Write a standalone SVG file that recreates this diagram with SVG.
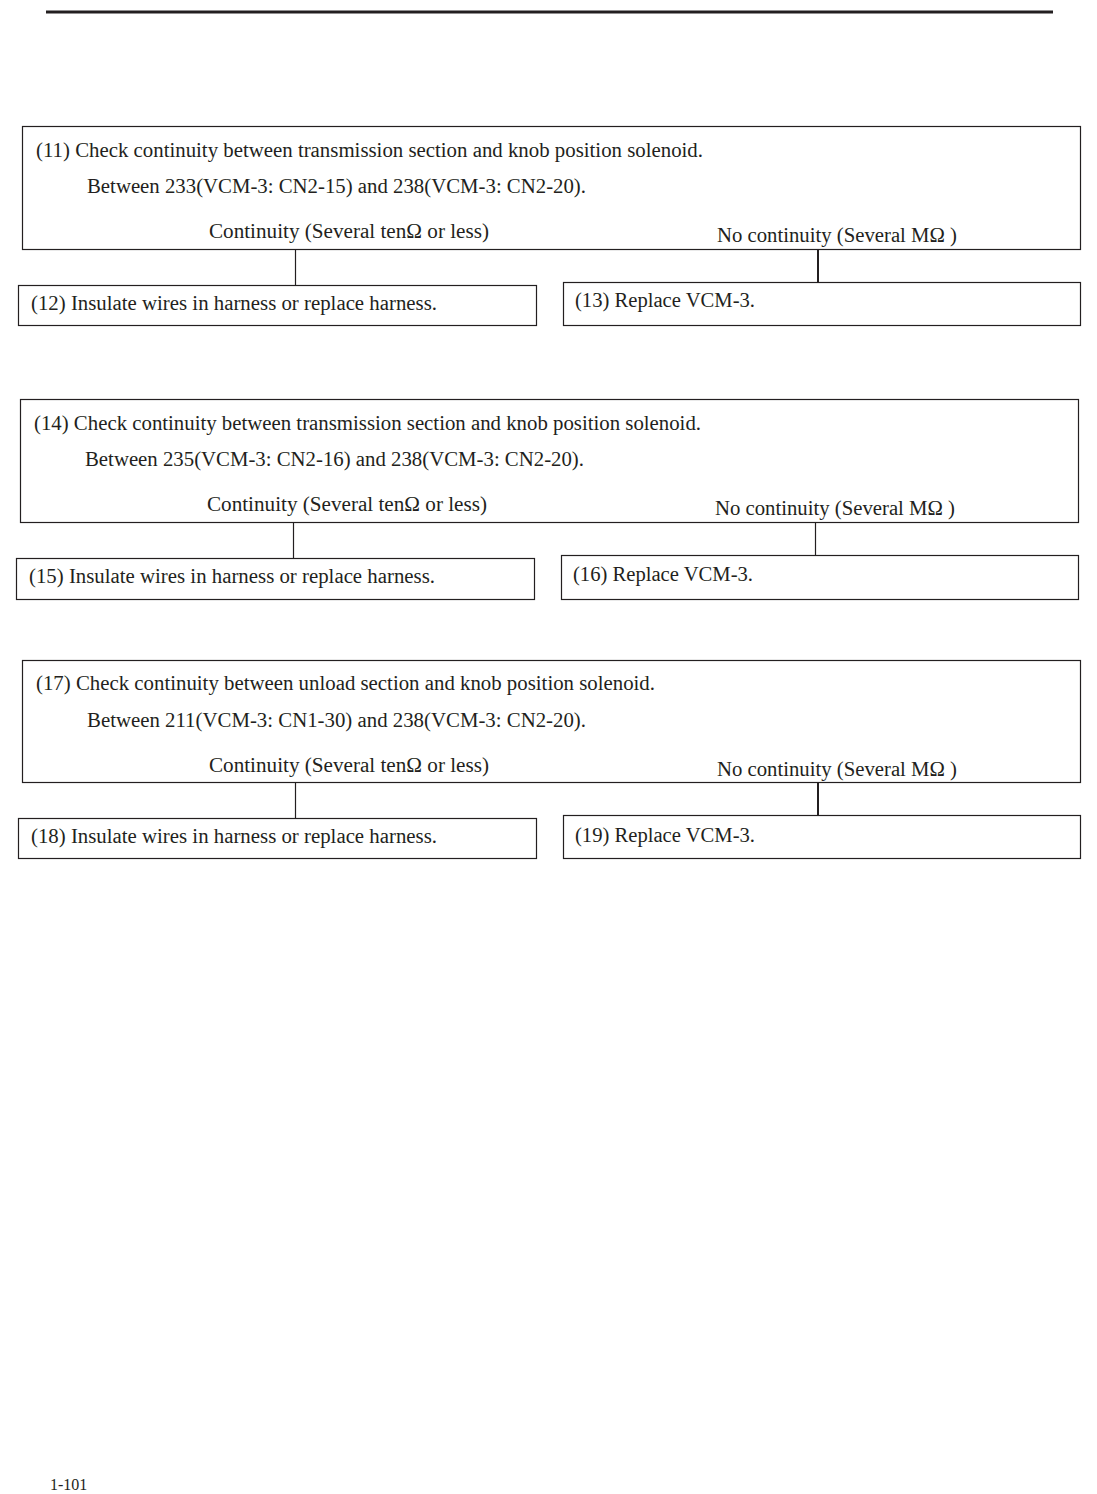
<svg xmlns="http://www.w3.org/2000/svg" width="1097" height="1494" viewBox="0 0 1097 1494">
<style>
.box{fill:#fff;stroke:#231f20;stroke-width:1.2}
.t{font-family:"Liberation Serif","Times New Roman",serif;font-size:20px;fill:#231f20}
.c{stroke:#231f20;stroke-width:1.2;fill:none}
.ck{stroke:#231f20;stroke-width:2;fill:none}
</style>
<rect width="1097" height="1494" fill="#fff"/>
<line x1="46" y1="12" x2="1053" y2="12" stroke="#231f20" stroke-width="3"/>

<g id="connectors">
<line class="c" x1="295.5" y1="250" x2="295.5" y2="285"/>
<line class="ck" x1="818" y1="250" x2="818" y2="283"/>
<line class="c" x1="293.5" y1="523" x2="293.5" y2="558"/>
<line class="c" x1="815.5" y1="523" x2="815.5" y2="555"/>
<line class="c" x1="295.5" y1="783" x2="295.5" y2="818"/>
<line class="ck" x1="818" y1="783" x2="818" y2="816"/>
</g>

<g id="n11">
<rect class="box" x="22.5" y="126.5" width="1058" height="123"/>
<text class="t" x="36" y="157" textLength="667" lengthAdjust="spacingAndGlyphs">(11) Check continuity between transmission section and knob position solenoid.</text>
<text class="t" x="87" y="193" textLength="499" lengthAdjust="spacingAndGlyphs">Between 233(VCM-3: CN2-15) and 238(VCM-3: CN2-20).</text>
<text class="t" x="209" y="238" textLength="280" lengthAdjust="spacingAndGlyphs">Continuity (Several tenΩ  or less)</text>
<text class="t" x="717" y="242" textLength="240" lengthAdjust="spacingAndGlyphs">No continuity (Several MΩ )</text>
</g>
<g id="n12">
<rect class="box" x="18.5" y="285.5" width="518" height="40"/>
<text class="t" x="31" y="310" textLength="406" lengthAdjust="spacingAndGlyphs">(12) Insulate wires in harness or replace harness.</text>
</g>
<g id="n13">
<rect class="box" x="563.5" y="282.5" width="517" height="43"/>
<text class="t" x="575" y="307" textLength="180" lengthAdjust="spacingAndGlyphs">(13) Replace VCM-3.</text>
</g>

<g id="n14">
<rect class="box" x="20.5" y="399.5" width="1058" height="123"/>
<text class="t" x="34" y="430" textLength="667" lengthAdjust="spacingAndGlyphs">(14) Check continuity between transmission section and knob position solenoid.</text>
<text class="t" x="85" y="466" textLength="499" lengthAdjust="spacingAndGlyphs">Between 235(VCM-3: CN2-16) and 238(VCM-3: CN2-20).</text>
<text class="t" x="207" y="511" textLength="280" lengthAdjust="spacingAndGlyphs">Continuity (Several tenΩ  or less)</text>
<text class="t" x="715" y="515" textLength="240" lengthAdjust="spacingAndGlyphs">No continuity (Several MΩ )</text>
</g>
<g id="n15">
<rect class="box" x="16.5" y="558.5" width="518" height="41"/>
<text class="t" x="29" y="583" textLength="406" lengthAdjust="spacingAndGlyphs">(15) Insulate wires in harness or replace harness.</text>
</g>
<g id="n16">
<rect class="box" x="561.5" y="555.5" width="517" height="44"/>
<text class="t" x="573" y="581" textLength="180" lengthAdjust="spacingAndGlyphs">(16) Replace VCM-3.</text>
</g>

<g id="n17">
<rect class="box" x="22.5" y="660.5" width="1058" height="122"/>
<text class="t" x="36" y="690" textLength="619" lengthAdjust="spacingAndGlyphs">(17) Check continuity between unload section and knob position solenoid.</text>
<text class="t" x="87" y="727" textLength="499" lengthAdjust="spacingAndGlyphs">Between 211(VCM-3: CN1-30) and 238(VCM-3: CN2-20).</text>
<text class="t" x="209" y="772" textLength="280" lengthAdjust="spacingAndGlyphs">Continuity (Several tenΩ  or less)</text>
<text class="t" x="717" y="776" textLength="240" lengthAdjust="spacingAndGlyphs">No continuity (Several MΩ )</text>
</g>
<g id="n18">
<rect class="box" x="18.5" y="818.5" width="518" height="40"/>
<text class="t" x="31" y="843" textLength="406" lengthAdjust="spacingAndGlyphs">(18) Insulate wires in harness or replace harness.</text>
</g>
<g id="n19">
<rect class="box" x="563.5" y="815.5" width="517" height="43"/>
<text class="t" x="575" y="842" textLength="180" lengthAdjust="spacingAndGlyphs">(19) Replace VCM-3.</text>
</g>

<text class="t" x="50" y="1490" style="font-size:16px">1-101</text>
</svg>
